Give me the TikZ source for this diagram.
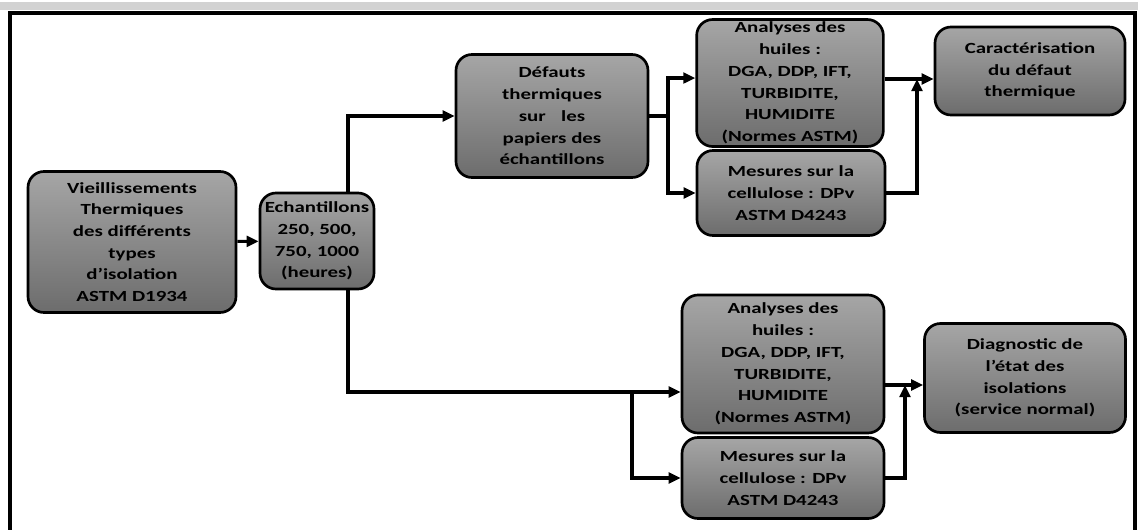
\documentclass[tikz,border=0pt]{standalone}
\usepackage{fontspec}
\usepackage{tikz}
\usetikzlibrary{arrows.meta, calc}
\newfontfamily\boxfont{Carlito}[FakeStretch=1.35]

\begin{document}
\begin{tikzpicture}[x=0.75pt, y=-0.75pt,
  etape/.style={draw=black, line width=2pt, rounded corners=12pt, top color=gray!70, bottom color=gray!85!black,
    align=center, inner sep=0pt, font=\boxfont\bfseries\fontsize{11.6}{16.3}\selectfont},
  lien/.style={line width=2.3pt},
  fleche/.style={lien, -{Triangle[length=9pt, width=8pt]}}]
\useasboundingbox (0,0) rectangle (1138,529);
\fill[gray!35] (0,2) rectangle (1138,10);
\draw[line width=2.3pt] (10,535) -- (10,13) -- (1135,13) -- (1135,535);
\node[etape, minimum width=156pt, minimum height=105.75pt] (vieil) at (132,242) {Vieillissements\\Thermiques\\des différents\\types\\d’isolation\\ASTM D1934};
\node[etape, minimum width=85.5pt, minimum height=72pt] (echant) at (317,241) {Echantillons\\250, 500,\\750, 1000\\(heures)};
\node[etape, minimum width=144pt, minimum height=92.25pt] (defauts) at (552,116) {Défauts\\thermiques\\sur\quad les\\papiers des\\échantillons};
\node[etape, minimum width=140pt, minimum height=95.25pt] (huile1) at (790,83) {Analyses des\\huiles :\\DGA, DDP, IFT,\\TURBIDITE,\\HUMIDITE\\(Normes ASTM)};
\node[etape, minimum width=141pt, minimum height=63.75pt] (cellu1) at (791,193) {Mesures sur la\\cellulose : DPv\\ASTM D4243};
\node[etape, minimum width=142.5pt, minimum height=66pt] (carac) at (1030,71) {Caractérisation\\du défaut\\thermique};
\node[etape, minimum width=151.5pt, minimum height=103.5pt] (huile2) at (783,364) {Analyses des\\huiles :\\DGA, DDP, IFT,\\TURBIDITE,\\HUMIDITE\\(Normes ASTM)};
\node[etape, minimum width=151.5pt, minimum height=60.75pt] (cellu2) at (783,478) {Mesures sur la\\cellulose : DPv\\ASTM D4243};
\node[etape, minimum width=150.75pt, minimum height=81.75pt] (diag) at (1025,378) {Diagnostic de\\l’état des\\isolations\\(service normal)};
\coordinate (j0) at (348,116);
\coordinate (j1) at (348,392);
\coordinate (j2) at (632,392);
\coordinate (j3) at (668,116);
\coordinate (j4) at (917,79);
\coordinate (j5) at (905,385);
\draw[fleche] (vieil) -- (echant);
\draw[fleche] (echant.north -| j0) -- (j0) -- (defauts.west |- j0);
\draw[fleche] (echant.south -| j1) |- (huile2.west |- j1);
\draw[fleche] (j2) |- (cellu2.west);
\draw[lien] (defauts.east |- j3) -- (j3);
\draw[fleche] (j3) |- ($(huile1.west)+(0,-5)$);
\draw[fleche] (j3) |- (cellu1.west);
\draw[fleche] (huile1.east |- j4) -- (carac.west |- j4);
\draw[fleche] (cellu1.east) -| (j4);
\draw[fleche] (huile2.east |- j5) -- (diag.west |- j5);
\draw[fleche] (cellu2.east) -| (j5);
\end{tikzpicture}
\end{document}
